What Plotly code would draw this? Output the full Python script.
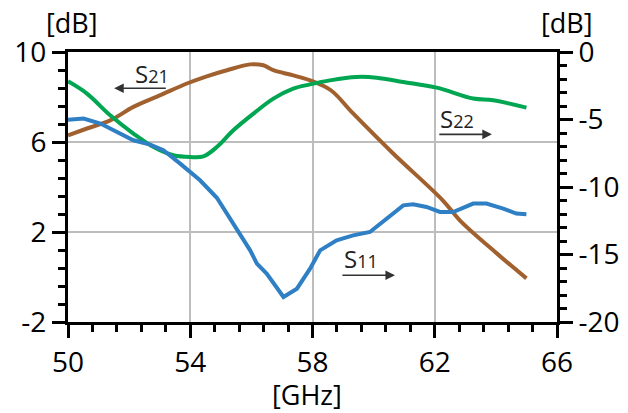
import plotly.graph_objects as go

# S21 (left axis, dB)
s21_f = [50.0, 50.62, 51.38, 52.14, 53.02, 53.89, 54.54, 55.2, 55.96, 56.39, 56.72, 57.37, 57.92,
         58.6, 59.32, 60.63, 62.26, 62.82, 64.03, 65.0]
s21_db = [6.30, 6.6, 6.96, 7.56, 8.08, 8.6, 8.92, 9.19, 9.45, 9.41, 9.19, 8.96, 8.74,
          8.3, 7.28, 5.5, 3.41, 2.52, 1.05, -0.06]

# S22 (right axis, dB)
s22_f = [50.0, 50.62, 51.38, 52.14, 52.8, 53.45, 54.0, 54.43, 54.87, 55.41, 56.07, 56.72, 57.37,
         57.92, 58.57, 59.44, 60.1, 60.97, 62.06, 63.26, 63.91, 65.0]
s22_db = [-2.17, -3.08, -4.69, -6.04, -7.04, -7.65, -7.78, -7.73, -7.04, -5.8, -4.56, -3.45, -2.71,
          -2.4, -2.1, -1.85, -1.9, -2.22, -2.64, -3.45, -3.58, -4.12]

# S11 (right axis, dB)
s11_f = [50.0, 50.51, 51.06, 51.6, 52.14, 52.69, 53.12, 53.67, 54.32, 54.87, 55.41, 55.96, 56.18,
         56.5, 57.05, 57.49, 57.92, 58.25, 58.79, 59.33, 59.88, 60.21, 60.64, 60.97, 61.29,
         61.73, 62.17, 62.6, 63.26, 63.69, 64.24, 64.67, 65.0]
s11_db = [-5.01, -4.93, -5.3, -5.93, -6.54, -6.86, -7.28, -8.27, -9.5, -10.8, -12.71, -14.69, -15.67,
          -16.41, -18.15, -17.53, -16.05, -14.69, -13.95, -13.58, -13.33, -12.71, -11.97, -11.36, -11.28,
          -11.48, -11.85, -11.85, -11.23, -11.23, -11.6, -11.97, -12.02]

x_ticks = [50, 54, 58, 62, 66]
x_labels = ["50", "54", "58", "62", "66"]
y_ticks = [-2, 2, 6, 10]
y_labels = ["-2", "2", "6", "10"]
y2_ticks = [-20, -15, -10, -5, 0]
y2_labels = ["-20", "-15", "-10", "-5", "0"]

FONT = "Open Sans"
BLACK = "#000000"
GRID = "#bdbdbd"

fig = go.Figure()
fig.add_trace(go.Scatter(x=s21_f, y=s21_db, mode="lines", line=dict(color="#a0612f", width=4),
                         line_shape="spline", yaxis="y"))
fig.add_trace(go.Scatter(x=s22_f, y=s22_db, mode="lines", line=dict(color="#00a651", width=4),
                         line_shape="spline", yaxis="y2"))
fig.add_trace(go.Scatter(x=s11_f, y=s11_db, mode="lines", line=dict(color="#2e7fc4", width=4),
                         line_shape="linear", yaxis="y2"))

axis_common = dict(
    showline=True, linecolor=BLACK, linewidth=3,
    ticks="outside", ticklen=13, tickwidth=3, tickcolor=BLACK,
    tickfont=dict(family=FONT, size=28, color=BLACK),
    zeroline=False, automargin=False,
)

fig.update_layout(
    width=628, height=413,
    margin=dict(l=68, r=71, t=52, b=91, autoexpand=False),
    plot_bgcolor="white", paper_bgcolor="white",
    showlegend=False,
    xaxis=dict(range=[50, 66], tickvals=x_ticks, ticktext=x_labels, showgrid=True, gridcolor=GRID,
               gridwidth=2, mirror=True,
               minor=dict(dtick=0.8, tick0=50, ticklen=7, tickwidth=3, tickcolor=BLACK, showgrid=False),
               **axis_common),
    yaxis=dict(range=[-2, 10], tickvals=y_ticks, ticktext=y_labels, showgrid=True, gridcolor=GRID,
               gridwidth=2,
               minor=dict(dtick=0.8, tick0=-2, ticklen=7, tickwidth=3, tickcolor=BLACK, showgrid=False),
               **axis_common),
    yaxis2=dict(range=[-20, 0], tickvals=y2_ticks, ticktext=y2_labels, overlaying="y", side="right",
                showgrid=False,
                minor=dict(dtick=1, tick0=-20, ticklen=7, tickwidth=3, tickcolor=BLACK, showgrid=False),
                **axis_common),
)

ann_font = dict(family=FONT, size=24, color="#222222")
sub = "<span style='font-size:18px'>%s</span>"
labels = [
    ("S" + sub % "21", 52.74, 9.03, "y"),
    ("S" + sub % "22", 62.74, -4.95, "y2"),
    ("S" + sub % "11", 59.58, -15.32, "y2"),
]
for txt, x, y, yr in labels:
    fig.add_annotation(text=txt, x=x, y=y, xref="x", yref=yr, showarrow=False, font=ann_font)

arrows = [
    (51.51, 53.25, 8.39, "y"),
    (63.87, 62.10, -6.1, "y2"),
    (60.70, 58.93, -16.54, "y2"),
]
for head, tail, y, yr in arrows:
    fig.add_annotation(text="", x=head, y=y, ax=tail, ay=y, xref="x", yref=yr, axref="x", ayref=yr,
                       showarrow=True, arrowhead=2, arrowsize=1.2, arrowwidth=1.6, arrowcolor="#333333")

title_font = dict(family=FONT, size=27, color=BLACK)
fig.add_annotation(text="[GHz]", x=0.488, y=-0.27, xref="paper", yref="paper", showarrow=False,
                   font=title_font, xanchor="center", yanchor="middle")
fig.add_annotation(text="[dB]", x=0.008, y=1.108, xref="paper", yref="paper", showarrow=False,
                   font=title_font, xanchor="center", yanchor="middle")
fig.add_annotation(text="[dB]", x=1.02, y=1.108, xref="paper", yref="paper", showarrow=False,
                   font=title_font, xanchor="center", yanchor="middle")

fig.write_html("out.html", config={"displayModeBar": False},
               post_script="document.body.style.margin='0';document.body.style.overflow='hidden';")
